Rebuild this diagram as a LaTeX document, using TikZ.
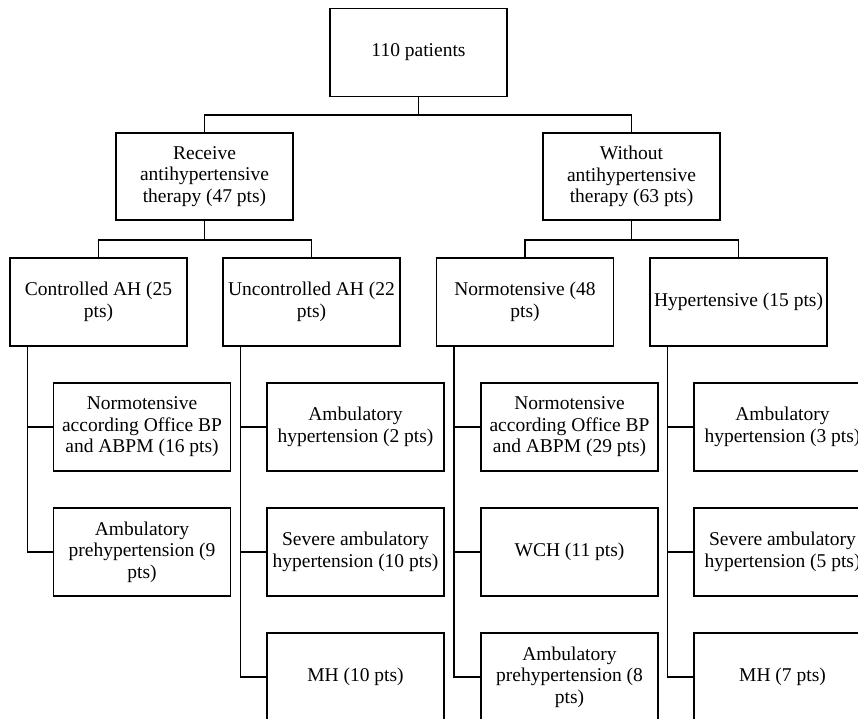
\documentclass[tikz,border=0pt]{standalone}
\usepackage{fontspec}
\setmainfont{Liberation Serif}
\begin{document}
\begin{tikzpicture}[x=1pt,y=-1pt,
  box/.style={draw,line width=1.1pt,minimum width=177pt,minimum height=88pt,
    inner sep=1pt,align=center,font=\fontsize{19.5}{21.5}\selectfont},
  link/.style={line width=1.1pt}]
\useasboundingbox (0,0) rectangle (858,719);
\clip (0,0) rectangle (858,719);

% root and the two therapy groups
\node[box] (root) at (418.5,52.5) {110 patients};
\node[box,minimum height=87pt] (rx)   at (204.5,176.5) {Receive\\antihypertensive\\therapy (47 pts)};
\node[box,minimum height=87pt] (norx) at (631.5,176.5) {Without\\antihypertensive\\therapy (63 pts)};

% control status
\node[box] (ctl)  at (98.5,302)  {Controlled AH (25\\pts)};
\node[box] (unc)  at (311.5,302) {Uncontrolled AH (22\\pts)};
\node[box] (nrm)  at (525,302)   {Normotensive (48\\pts)};
\node[box] (hyp)  at (738.5,302) {Hypertensive (15 pts)};

% ABPM subgroups
\node[box] (ctlA) at (142,427)   {Normotensive\\according Office BP\\and ABPM (16 pts)};
\node[box] (ctlB) at (142,552)   {Ambulatory\\prehypertension (9\\pts)};
\node[box] (uncA) at (355.5,427) {Ambulatory\\hypertension (2 pts)};
\node[box] (uncB) at (355.5,552) {Severe ambulatory\\hypertension (10 pts)};
\node[box] (uncC) at (355.5,677) {MH (10 pts)};
\node[box] (nrmA) at (569.5,427) {Normotensive\\according Office BP\\and ABPM (29 pts)};
\node[box] (nrmB) at (569.5,552) {WCH (11 pts)};
\node[box] (nrmC) at (569.5,677) {Ambulatory\\prehypertension (8\\pts)};
\node[box] (hypA) at (782.5,427) {Ambulatory\\hypertension (3 pts)};
\node[box] (hypB) at (782.5,552) {Severe ambulatory\\hypertension (5 pts)};
\node[box] (hypC) at (782.5,677) {MH (7 pts)};

% bus lines between levels
\coordinate (bus0) at (418.5,115);
\draw[link] (root.south) -- (bus0) -| (rx.north);
\draw[link] (bus0) -| (norx.north);
\coordinate (bus1) at (204.5,240);
\draw[link] (rx.south) -- (bus1) -| (ctl.north);
\draw[link] (bus1) -| (unc.north);
\coordinate (bus2) at (631.5,240);
\draw[link] (norx.south) -- (bus2) -| (nrm.north);
\draw[link] (bus2) -| (hyp.north);

% trunks from each group to its subgroups
\foreach \p/\cs in {ctl/{ctlA,ctlB}, unc/{uncA,uncB,uncC}, nrm/{nrmA,nrmB,nrmC}, hyp/{hypA,hypB,hypC}}{
  \foreach \c in \cs {
    \draw[link] ([xshift=18pt]\p.south west) |- (\c.west);
  }
}
\end{tikzpicture}
\end{document}
